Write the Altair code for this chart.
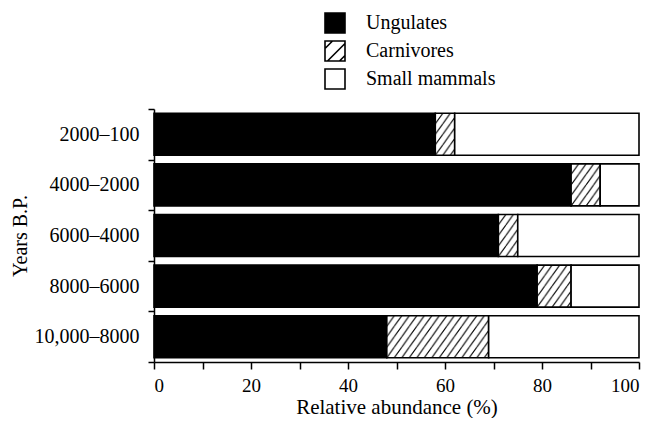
import base64
import altair as alt
import pandas as pd

periods = ["2000–100", "4000–2000", "6000–4000", "8000–6000", "10,000–8000"]
groups = ["Ungulates", "Carnivores", "Small mammals"]
ungulates = [58, 86, 71, 79, 48]
carnivores = [4, 6, 4, 7, 21]
small_mammals = [38, 8, 25, 14, 31]
x_ticks = [0, 10, 20, 30, 40, 50, 60, 70, 80, 90, 100]

rows = []
for i, p in enumerate(periods):
    start = 0
    for g, vals in zip(groups, [ungulates, carnivores, small_mammals]):
        v = vals[i]
        rows.append({"period": p, "group": g, "start": start, "end": start + v, "value": v})
        start += v
df = pd.DataFrame(rows)

FONT = "Liberation Serif"

hatch_svg = (
    '<svg xmlns="http://www.w3.org/2000/svg" width="100%" height="100%">'
    '<defs><pattern id="h" patternUnits="userSpaceOnUse" width="7.5" height="10.5">'
    '<path d="M-7.5,10.5L0,0M0,10.5L7.5,0M7.5,10.5L15,0" stroke="black" '
    'stroke-width="1.1" fill="none"/></pattern></defs>'
    '<rect x="0" y="0" width="100%" height="100%" fill="url(#h)"/></svg>'
)
HATCH = "data:image/svg+xml;base64," + base64.b64encode(hatch_svg.encode()).decode()

SQ = "M-1,-1H1V1H-1Z"
SQ_HATCH = "M-1,-1H1V1H-1Z M-0.75,1L1,-0.75 M-1,-0.25L-0.25,-1 M0.45,1L1,0.45"

y_axis = alt.Axis(
    title="Years B.P.", tickBand="extent", tickSize=6, tickWidth=1.5, tickColor="black",
    domainColor="black", domainWidth=1.5, labelPadding=9,
    labelFont=FONT, labelFontSize=20, labelColor="black",
    titleFont=FONT, titleFontSize=20, titleFontWeight="normal", titleColor="black",
    titlePadding=4,
)
x_axis = alt.Axis(
    title="Relative abundance (%)", values=x_ticks,
    labelExpr="datum.value % 20 == 0 ? datum.label : ''",
    tickSize=7, tickWidth=1.5, tickColor="black", domainColor="black", domainWidth=1.5,
    labelPadding=7, labelFont=FONT, labelFontSize=19, labelColor="black",
    titleFont=FONT, titleFontSize=21, titleFontWeight="normal", titleColor="black",
    titleBaseline="alphabetic", titleY=51, grid=False,
)

y_enc = alt.Y("period:N", sort=periods,
              scale=alt.Scale(paddingInner=0, paddingOuter=0), axis=y_axis)
x_enc = alt.X("start:Q", scale=alt.Scale(domain=[0, 100], nice=False), axis=x_axis)

bars = alt.Chart(df).transform_calculate(
    fillc="datum.group == 'Ungulates' ? 'black' : 'white'"
).mark_bar(height={"band": 0.83}, stroke="black", strokeWidth=1.6).encode(
    x=x_enc, x2="end:Q", y=y_enc, fill=alt.Fill("fillc:N", scale=None)
)

hatch = alt.Chart(df).transform_filter(
    "datum.group == 'Carnivores'"
).mark_image(aspect=False, height={"band": 0.83}).encode(
    x="start:Q", x2="end:Q", y=alt.Y("period:N", sort=periods), url=alt.value(HATCH)
)

leg = alt.Legend(
    title=None, orient="none", legendX=170, legendY=-97, direction="vertical",
    symbolSize=400, symbolStrokeColor="black", symbolStrokeWidth=1.6,
    labelFont=FONT, labelFontSize=20, labelColor="black", labelOffset=20,
    rowPadding=0, padding=0,
)
legend_layer = alt.Chart(df).transform_filter("false").mark_point(
    filled=True, opacity=1, stroke="black", strokeWidth=1.6
).encode(
    fill=alt.Fill("group:N", scale=alt.Scale(domain=groups, range=["black", "white", "white"]), legend=leg),
    shape=alt.Shape("group:N", scale=alt.Scale(domain=groups, range=[SQ, SQ_HATCH, SQ]), legend=leg),
)

chart = alt.layer(bars, hatch, legend_layer).properties(
    width=485, height=253,
    autosize=alt.AutoSizeParams(type="none"),
    padding={"left": 146, "top": 101, "right": 18, "bottom": 56},
    background="white",
).configure_view(stroke=None).configure_axis(
    labelFont=FONT, titleFont=FONT, labelColor="black", titleColor="black",
    titleFontWeight="normal",
)

chart.save("out.html", embed_options={"renderer": "svg", "actions": False})
